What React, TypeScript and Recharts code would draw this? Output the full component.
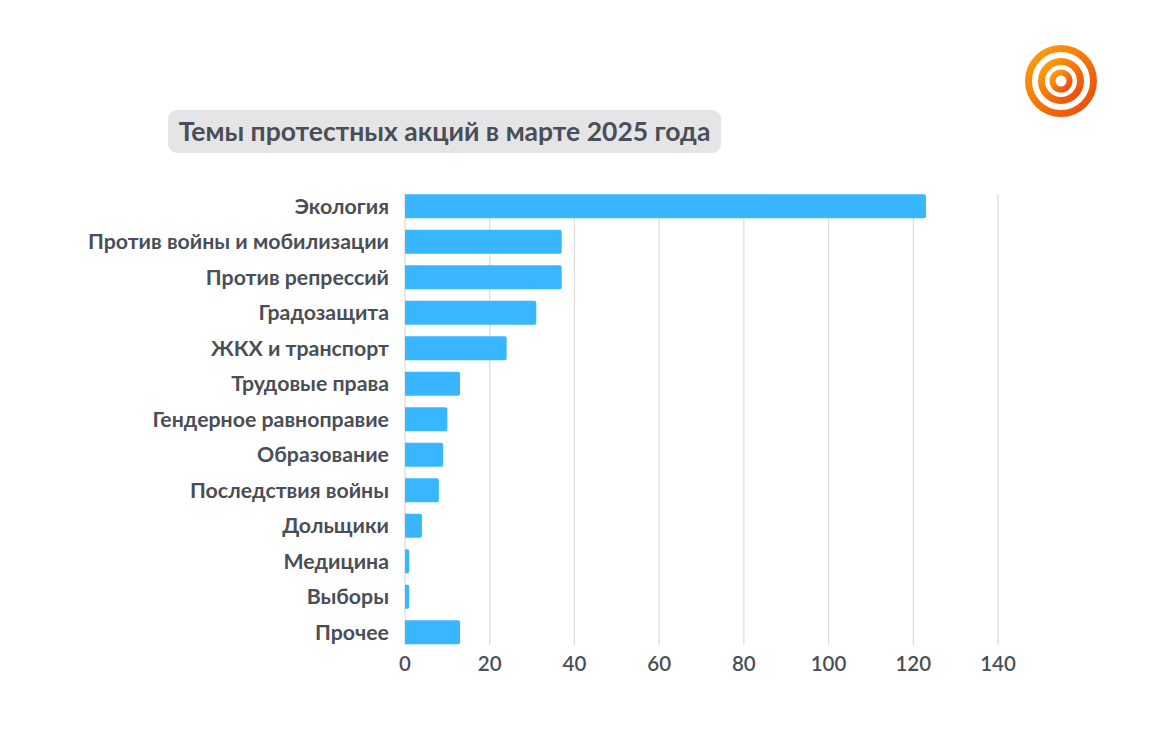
import React from 'react';
import { BarChart, Bar, XAxis, YAxis, CartesianGrid } from 'recharts';

const categories = [
  'Экология',
  'Против войны и мобилизации',
  'Против репрессий',
  'Градозащита',
  'ЖКХ и транспорт',
  'Трудовые права',
  'Гендерное равноправие',
  'Образование',
  'Последствия войны',
  'Дольщики',
  'Медицина',
  'Выборы',
  'Прочее',
];
const values = [123, 37, 37, 31, 24, 13, 10, 9, 8, 4, 1, 1, 13];
const xTicks = [0, 20, 40, 60, 80, 100, 120, 140];
const title = 'Темы протестных акций в марте 2025 года';

const data = categories.map((name, i) => ({ name, value: values[i] }));

const FONT = 'Lato, "Noto Sans", sans-serif';
const TEXT = '#4a4e56';

function Logo() {
  return (
    <svg width={80} height={80} viewBox="0 0 80 80" style={{ position: 'absolute', left: 1021, top: 41 }}>
      <defs>
        <linearGradient id="lg" x1="0" y1="0" x2="1" y2="1">
          <stop offset="0%" stopColor="#ffa30a" />
          <stop offset="100%" stopColor="#e9480c" />
        </linearGradient>
      </defs>
      <circle cx={40} cy={40} r={32.5} fill="none" stroke="url(#lg)" strokeWidth={7} />
      <circle cx={40} cy={40} r={19.5} fill="none" stroke="url(#lg)" strokeWidth={7} />
      <circle cx={40} cy={40} r={8.5} fill="none" stroke="url(#lg)" strokeWidth={6} />
    </svg>
  );
}

export default function App() {
  return (
    <div style={{ position: 'absolute', left: 0, top: 0, width: 1171, height: 738, background: '#fff', fontFamily: FONT }}>
      <div
        style={{
          position: 'absolute',
          left: 168,
          top: 110,
          width: 553,
          height: 43,
          background: '#e5e5e8',
          borderRadius: 9,
          color: TEXT,
          fontWeight: 700,
          fontSize: 26.5,
          lineHeight: '43px',
          textAlign: 'center',
          whiteSpace: 'nowrap',
        }}
      >
        {title}
      </div>
      <Logo />
      <div style={{ position: 'absolute', left: 0, top: 0 }}>
        <BarChart
          width={1171}
          height={738}
          data={data}
          layout="vertical"
          margin={{ top: 194, right: 173, bottom: 0, left: 0 }}
        >
          <CartesianGrid horizontal={false} vertical stroke="#dedede" strokeWidth={1.3} />
          <XAxis
            type="number"
            domain={[0, 140]}
            ticks={xTicks}
            axisLine={false}
            tickLine={false}
            tickSize={0}
            tickMargin={11}
            height={93}
            interval={0}
            tick={{ fill: TEXT, fontSize: 20.5, fontFamily: FONT, fontWeight: 600 }}
          />
          <YAxis
            type="category"
            dataKey="name"
            width={405}
            axisLine={false}
            tickLine={false}
            tickSize={0}
            tickMargin={16}
            interval={0}
            padding={{ top: -5.75, bottom: -4.75 }}
            tick={{ fill: TEXT, fontSize: 21.3, fontFamily: FONT, fontWeight: 700 }}
          />
          <Bar dataKey="value" fill="#38b6ff" barSize={24} radius={[0, 2, 2, 0]} isAnimationActive={false} />
        </BarChart>
      </div>
    </div>
  );
}
